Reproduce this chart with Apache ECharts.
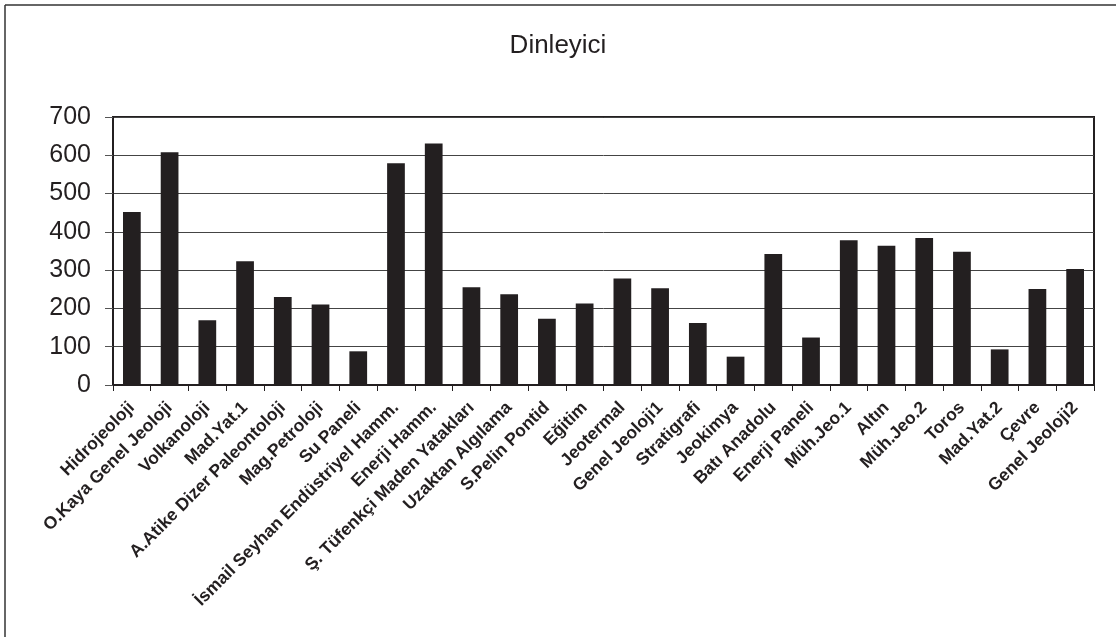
<!DOCTYPE html>
<html>
<head>
<meta charset="utf-8">
<script src="https://cdn.jsdelivr.net/npm/echarts@6/dist/echarts.min.js"></script>
<style>html,body{margin:0;padding:0;background:#fff;}#c{width:1116px;height:637px;}</style>
</head>
<body>
<div id="c"></div>
<script>
const categories = ["Hidrojeoloji","O.Kaya Genel Jeoloji","Volkanoloji","Mad.Yat.1","A.Atike Dizer Paleontoloji","Mag.Petroloji","Su Paneli","İsmail Seyhan Endüstriyel Hamm.","Enerji Hamm.","Ş. Tüfenkçi Maden Yatakları","Uzaktan Algılama","S.Pelin Pontid","Eğitim","Jeotermal","Genel Jeoloji1","Stratigrafi","Jeokimya","Batı Anadolu","Enerji Paneli","Müh.Jeo.1","Altın","Müh.Jeo.2","Toros","Mad.Yat.2","Çevre","Genel Jeoloji2"];
const dinleyici = [452,608,169,323,230,210,88,579,631,255,237,173,213,278,253,162,74,342,124,378,364,384,348,93,251,303];
const yTicks = [0,100,200,300,400,500,600,700];

const chart = echarts.init(document.getElementById('c'), null, {renderer:'canvas'});
const ink = '#231f20';
chart.setOption({
  animation:false,
  backgroundColor:'#fff',
  textStyle:{fontFamily:'Liberation Sans, Arial, sans-serif'},
  title:{text:'Dinleyici', left:'center', top:28, textStyle:{fontSize:26, fontWeight:'normal', color:ink, fontFamily:'Liberation Sans, Arial, sans-serif'}},
  graphic:[
    {type:'line', shape:{x1:5,y1:5,x2:1116,y2:5}, style:{stroke:'#333',lineWidth:1.5}},
    {type:'line', shape:{x1:5,y1:5,x2:5,y2:637}, style:{stroke:'#333',lineWidth:1.5}}
  ],
  grid:{left:113, top:117, right:22, bottom:252, show:true, borderColor:ink, borderWidth:2, containLabel:false},
  xAxis:{
    type:'category', data:categories, boundaryGap:true,
    axisLine:{show:true, lineStyle:{color:ink, width:2}},
    axisTick:{show:true, interval:0, length:6, lineStyle:{color:ink, width:1}},
    axisLabel:{interval:0, rotate:45, fontSize:17.5, fontWeight:'bold', color:ink, margin:20, fontFamily:'Liberation Sans, Arial, sans-serif'},
    splitLine:{show:false}
  },
  yAxis:{
    type:'value', min:yTicks[0], max:yTicks[yTicks.length-1], interval:100,
    axisLine:{show:true, lineStyle:{color:ink, width:2}},
    axisTick:{show:true, length:8, lineStyle:{color:'#555', width:1}},
    axisLabel:{fontSize:25, color:ink, margin:22, fontFamily:'Liberation Sans, Arial, sans-serif'},
    splitLine:{show:true, lineStyle:{color:'#444', width:1}}
  },
  series:[{type:'bar', name:'Dinleyici', data:dinleyici, barWidth:'47%', itemStyle:{color:ink}}]
});
</script>
</body>
</html>
